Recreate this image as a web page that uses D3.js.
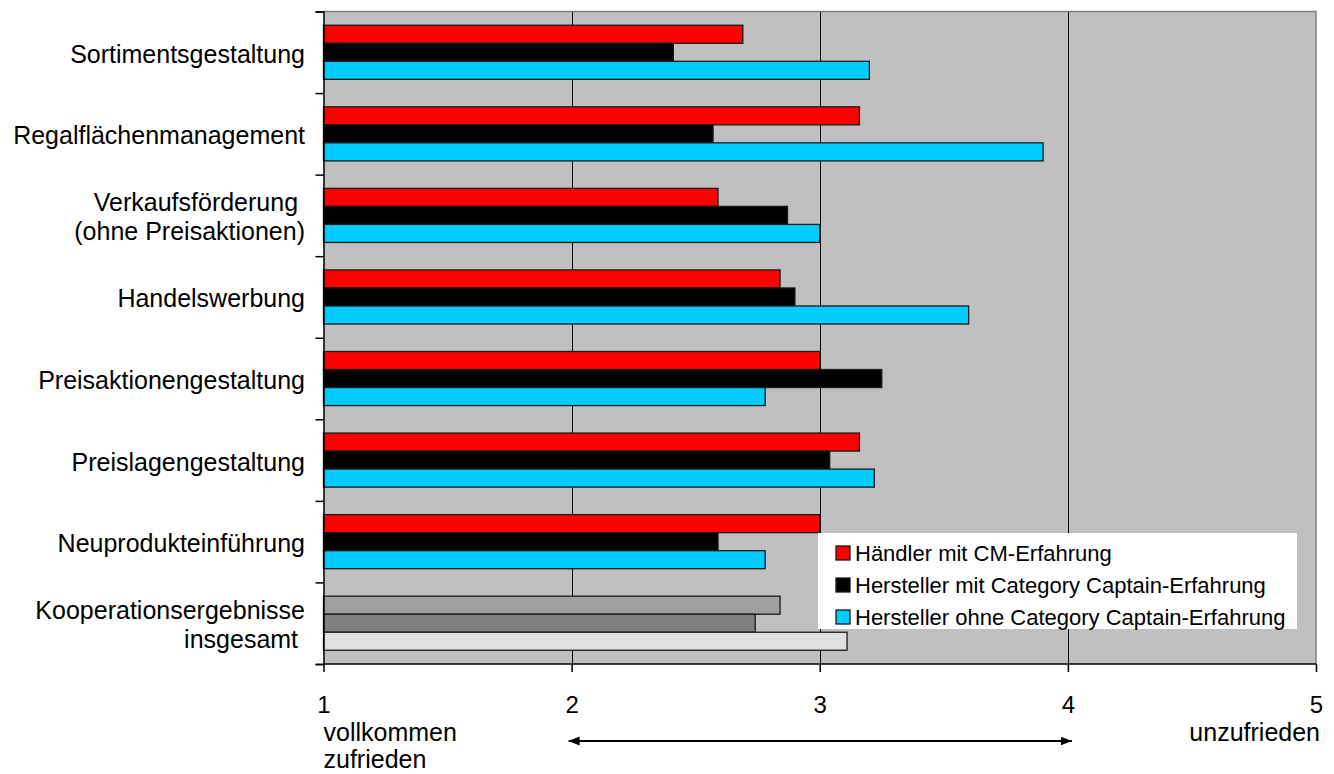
<!DOCTYPE html>
<html lang="de">
<head>
<meta charset="utf-8">
<title>Zufriedenheit mit der Kooperation</title>
<script src="https://cdn.jsdelivr.net/npm/d3@7"></script>
<style>
  html, body { margin: 0; padding: 0; background: #ffffff; }
  svg { display: block; font-family: Arial, "Liberation Sans", sans-serif; }
  text { white-space: pre; }
</style>
</head>
<body>
<svg id="chart" width="1334" height="774"></svg>
<script>
// Kategorien (mehrzeilige Beschriftungen als Zeilenlisten)
const categories = [
  "Sortimentsgestaltung",
  "Regalflächenmanagement",
  "Verkaufsförderung (ohne Preisaktionen)",
  "Handelswerbung",
  "Preisaktionengestaltung",
  "Preislagengestaltung",
  "Neuprodukteinführung",
  "Kooperationsergebnisse insgesamt"
];
const categoryLines = [
  ["Sortimentsgestaltung"],
  ["Regalflächenmanagement"],
  ["Verkaufsförderung ", "(ohne Preisaktionen)"],
  ["Handelswerbung"],
  ["Preisaktionengestaltung"],
  ["Preislagengestaltung"],
  ["Neuprodukteinführung"],
  ["Kooperationsergebnisse", "insgesamt "]
];

// Mittelwerte je Gruppe (1 = vollkommen zufrieden, 5 = unzufrieden)
const seriesNames = [
  "Händler mit CM-Erfahrung",
  "Hersteller mit Category Captain-Erfahrung",
  "Hersteller ohne Category Captain-Erfahrung"
];
const haendlerCM       = [2.69, 3.16, 2.59, 2.84, 3.00, 3.16, 3.00, 2.84];
const herstellerMitCC  = [2.41, 2.57, 2.87, 2.90, 3.25, 3.04, 2.59, 2.74];
const herstellerOhneCC = [3.20, 3.90, 3.00, 3.60, 2.78, 3.22, 2.78, 3.11];
const seriesValues = [haendlerCM, herstellerMitCC, herstellerOhneCC];

const seriesColors = ["#ff0000", "#000000", "#00ccff"];
const totalColors  = ["#a0a0a0", "#808080", "#e0e0e0"];

const xTicks = [1, 2, 3, 4, 5];
const xTickLabels = ["1", "2", "3", "4", "5"];
const scaleEndLabels = { left: ["vollkommen", "zufrieden"], right: ["unzufrieden"] };

// Zeichenfläche
const plot = { left: 323.5, top: 11.5, right: 1316, bottom: 664 };
const svg = d3.select("#chart");

const x = d3.scaleLinear().domain([1, 5]).range([plot.left, plot.right]);
const y = d3.scaleBand().domain(categories).range([plot.top, plot.bottom])
  .paddingInner(0.337).paddingOuter(0.1685);
const ySub = d3.scaleBand().domain(d3.range(seriesNames.length)).range([0, y.bandwidth()]);

// Hintergrund
svg.append("rect")
  .attr("x", plot.left).attr("y", plot.top)
  .attr("width", plot.right - plot.left).attr("height", plot.bottom - plot.top)
  .attr("fill", "#c0c0c0");

// Senkrechte Gitterlinien
svg.append("g")
  .selectAll("line")
  .data(xTicks.slice(1, -1))
  .join("line")
  .attr("x1", d => Math.round(x(d)) + 0.5).attr("x2", d => Math.round(x(d)) + 0.5)
  .attr("y1", plot.top).attr("y2", plot.bottom)
  .attr("stroke", "#000").attr("stroke-width", 1);

// Rahmen oben/rechts
svg.append("path")
  .attr("d", `M${plot.left},${plot.top}H${plot.right}V${plot.bottom}`)
  .attr("fill", "none").attr("stroke", "#808080").attr("stroke-width", 1.5);

// Balken
const rows = categories.flatMap((c, i) =>
  seriesValues.map((vals, s) => ({
    cat: c, s, value: vals[i],
    color: i === categories.length - 1 ? totalColors[s] : seriesColors[s]
  }))
);

svg.append("g")
  .selectAll("rect")
  .data(rows)
  .join("rect")
  .attr("x", x(1))
  .attr("y", d => y(d.cat) + ySub(d.s))
  .attr("width", d => x(d.value) - x(1))
  .attr("height", ySub.bandwidth())
  .attr("fill", d => d.color)
  .attr("stroke", "#1a1a1a")
  .attr("stroke-width", 1.3);

// Linke Achse mit Trennstrichen zwischen den Kategorien
const yBoundaries = d3.scaleLinear().domain([0, categories.length]).range([plot.top, plot.bottom]);
svg.append("g")
  .attr("transform", `translate(${plot.left},0)`)
  .call(d3.axisLeft(yBoundaries).tickValues(d3.range(categories.length + 1))
    .tickSize(8).tickFormat(""))
  .call(g => g.selectAll("path, line").attr("stroke", "#000").attr("stroke-width", 1.5));

// Kategoriebeschriftungen
const lineGap = 29;
const catLabels = svg.append("g")
  .attr("font-size", 25)
  .attr("fill", "#000")
  .attr("text-anchor", "end");
categories.forEach((c, i) => {
  const lines = categoryLines[i];
  const cy = y(c) + y.bandwidth() / 2;
  const first = cy + 10.5 - (lines.length - 1) * lineGap / 2;
  const t = catLabels.append("text").attr("x", 305);
  lines.forEach((ln, j) => {
    t.append("tspan").attr("x", 305).attr("y", first + j * lineGap).text(ln);
  });
});

// Untere Achse
svg.append("g")
  .attr("transform", `translate(0,${plot.bottom})`)
  .call(d3.axisBottom(x).tickValues(xTicks).tickSize(8).tickPadding(24)
    .tickFormat((d, i) => xTickLabels[i]))
  .call(g => g.selectAll("path, line").attr("stroke", "#000").attr("stroke-width", 1.5))
  .call(g => g.select(".domain").attr("d", `M${plot.left},0H${plot.right}`))
  .call(g => g.selectAll("text").attr("font-size", 24).attr("fill", "#000")
    .attr("font-family", "Arial, 'Liberation Sans', sans-serif"));

// Skalenenden
const endLabels = svg.append("g").attr("font-size", 25).attr("fill", "#000");
scaleEndLabels.left.forEach((t, i) => {
  endLabels.append("text").attr("x", x(1)).attr("y", 741 + i * 27).text(t);
});
scaleEndLabels.right.forEach((t, i) => {
  endLabels.append("text").attr("x", x(5) + 4).attr("y", 741 + i * 27)
    .attr("text-anchor", "end").text(t);
});

// Doppelpfeil zwischen 2 und 4
const defs = svg.append("defs");
["start", "end"].forEach(k => {
  defs.append("marker")
    .attr("id", "arrow-" + k)
    .attr("viewBox", "0 0 10 10")
    .attr("refX", k === "end" ? 10 : 0).attr("refY", 5)
    .attr("markerWidth", 11).attr("markerHeight", 11)
    .attr("markerUnits", "userSpaceOnUse")
    .attr("orient", "auto")
    .append("path")
    .attr("d", k === "end" ? "M0,1L10,5L0,9Z" : "M10,1L0,5L10,9Z")
    .attr("fill", "#000");
});
svg.append("line")
  .attr("x1", x(2) - 3).attr("x2", x(4) + 4)
  .attr("y1", 741).attr("y2", 741)
  .attr("stroke", "#000").attr("stroke-width", 2)
  .attr("marker-start", "url(#arrow-start)")
  .attr("marker-end", "url(#arrow-end)");

// Legende
const legend = svg.append("g");
legend.append("rect")
  .attr("x", 818).attr("y", 533).attr("width", 479).attr("height", 96)
  .attr("fill", "#ffffff");
seriesNames.forEach((name, i) => {
  const cy = 553 + i * 32;
  legend.append("rect")
    .attr("x", 836).attr("y", cy - 7).attr("width", 14).attr("height", 14)
    .attr("fill", seriesColors[i]).attr("stroke", "#1a1a1a").attr("stroke-width", 1.3);
  legend.append("text")
    .attr("x", 855).attr("y", cy + 7.5)
    .attr("font-size", 22).attr("fill", "#000")
    .text(name);
});
</script>
</body>
</html>
